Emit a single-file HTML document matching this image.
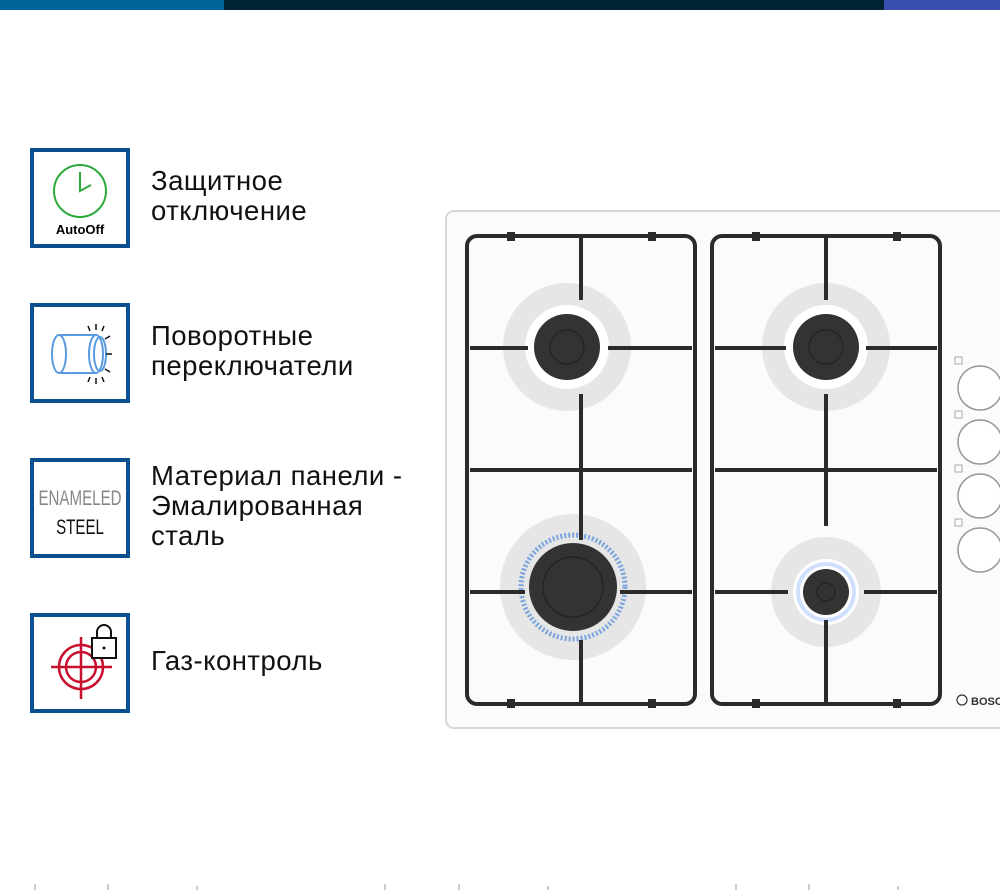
<!DOCTYPE html>
<html><head><meta charset="utf-8"><style>
body{margin:0;width:1000px;height:890px;background:#fff;position:relative;overflow:hidden;font-family:"Liberation Sans",sans-serif}
.bar{position:absolute;top:0;height:10px}
.box{position:absolute;left:30px;width:92px;height:92px;border:4px solid #0b4f8e;background:#fff}
.t{position:absolute;left:151px;font-size:27.5px;letter-spacing:0.5px;line-height:30px;color:#111}
</style></head><body>
<div class="bar" style="left:0;width:224px;background:#006499"></div>
<div class="bar" style="left:224px;width:660px;background:#002235"></div>
<div class="bar" style="left:884px;width:116px;background:#3a4fb0"></div>

<div class="box" style="top:148px">
<svg width="92" height="92"><circle cx="46" cy="39" r="26" fill="none" stroke="#2daa3c" stroke-width="2"/><path d="M46 20 V39 L57 33" fill="none" stroke="#2daa3c" stroke-width="2"/>
<text x="46" y="82" text-anchor="middle" font-size="13" font-weight="bold" font-family="Liberation Sans Narrow,Liberation Sans,sans-serif">AutoOff</text></svg></div>
<div class="t" style="top:166px">Защитное<br>отключение</div>

<div class="box" style="top:303px">
<svg width="92" height="92"><ellipse cx="25" cy="47" rx="7" ry="19" fill="none" stroke="#5a9be0" stroke-width="2"/><path d="M25 28 H62 M25 66 H62" stroke="#5a9be0" stroke-width="2"/><ellipse cx="62" cy="47" rx="7" ry="19" fill="none" stroke="#5a9be0" stroke-width="2"/><ellipse cx="66" cy="47" rx="6" ry="17" fill="none" stroke="#5a9be0" stroke-width="2"/>
<g stroke="#111" stroke-width="1.5"><path d="M62 17 l0 6 M54 19 l2 5 M70 19 l-2 5 M76 29 l-5 3 M78 47 h-6 M76 65 l-5 -3 M62 77 l0 -6 M54 75 l2 -5 M70 75 l-2 -5"/></g></svg></div>
<div class="t" style="top:321px">Поворотные<br>переключатели</div>

<div class="box" style="top:458px">
<svg width="92" height="92"><g transform="translate(46 0) scale(0.72 1)"><text x="0" y="43" text-anchor="middle" font-size="21" fill="#888">ENAMELED</text><text x="0" y="72" text-anchor="middle" font-size="21" fill="#111">STEEL</text></g></svg></div>
<div class="t" style="top:461px">Материал панели -<br>Эмалированная<br>сталь</div>

<div class="box" style="top:613px">
<svg width="92" height="92"><g fill="none" stroke="#c8102e" stroke-width="2.5"><circle cx="47" cy="50" r="22"/><circle cx="47" cy="50" r="15"/><path d="M17 50 H78 M47 20 V82"/></g>
<rect x="58" y="21" width="24" height="20" fill="#fff" stroke="#111" stroke-width="2"/><path d="M63 21 V15 a7 7 0 0 1 14 0 V21" fill="none" stroke="#111" stroke-width="2"/><circle cx="70" cy="31" r="1.5" fill="#111"/></svg></div>
<div class="t" style="top:646px">Газ-контроль</div>

<svg style="position:absolute;left:0;top:0" width="1000" height="890">
<rect x="446" y="211" width="580" height="517" rx="8" fill="#fbfbfb" stroke="#d8d8d8" stroke-width="2"/>
<g fill="#e6e6e6"><circle cx="567" cy="347" r="64"/><circle cx="826" cy="347" r="64"/><circle cx="573" cy="587" r="73"/><circle cx="826" cy="592" r="55"/></g>
<g fill="#fff"><circle cx="567" cy="347" r="42"/><circle cx="826" cy="347" r="42"/><circle cx="826" cy="592" r="33"/></g>
<circle cx="573" cy="587" r="52" fill="none" stroke="#7aa4e0" stroke-width="5" stroke-dasharray="2 2"/>
<circle cx="826" cy="592" r="28" fill="none" stroke="#cfe0ff" stroke-width="4"/>
<g fill="#333"><circle cx="567" cy="347" r="33"/><circle cx="826" cy="347" r="33"/><circle cx="573" cy="587" r="44"/><circle cx="826" cy="592" r="23"/></g>
<g fill="none" stroke="#222" stroke-width="1.2"><circle cx="567" cy="347" r="17"/><circle cx="826" cy="347" r="17"/><circle cx="573" cy="587" r="30"/><circle cx="826" cy="592" r="9"/></g>
<g fill="none" stroke="#2b2b2b" stroke-width="4">
<rect x="467" y="236" width="228" height="468" rx="10"/>
<rect x="712" y="236" width="228" height="468" rx="10"/>
<path d="M581 238 V300 M581 394 V540 M581 640 V702 M470 348 H528 M608 348 H692 M470 470 H692 M470 592 H525 M620 592 H692"/>
<path d="M826 238 V300 M826 394 V526 M826 620 V702 M715 348 H786 M866 348 H937 M715 470 H937 M715 592 H788 M864 592 H937"/>
</g>
<g fill="#2b2b2b"><rect x="507" y="232" width="8" height="9"/><rect x="648" y="232" width="8" height="9"/><rect x="507" y="699" width="8" height="9"/><rect x="648" y="699" width="8" height="9"/><rect x="752" y="232" width="8" height="9"/><rect x="893" y="232" width="8" height="9"/><rect x="752" y="699" width="8" height="9"/><rect x="893" y="699" width="8" height="9"/></g>
<g fill="#fff" stroke="#999" stroke-width="1.5"><circle cx="980" cy="388" r="22"/><circle cx="980" cy="442" r="22"/><circle cx="980" cy="496" r="22"/><circle cx="980" cy="550" r="22"/></g>
<g fill="none" stroke="#aaa"><rect x="955" y="357" width="7" height="7"/><rect x="955" y="411" width="7" height="7"/><rect x="955" y="465" width="7" height="7"/><rect x="955" y="519" width="7" height="7"/></g>
<circle cx="962" cy="700" r="5" fill="none" stroke="#333" stroke-width="1.2"/>
<text x="971" y="705" font-size="11" font-weight="bold" fill="#333">BOSCH</text>
<g fill="#ccc"><rect x="34" y="884" width="2" height="6"/><rect x="107" y="884" width="2" height="6"/><rect x="196" y="886" width="2" height="4"/><rect x="384" y="884" width="2" height="6"/><rect x="458" y="884" width="2" height="6"/><rect x="547" y="886" width="2" height="4"/><rect x="735" y="884" width="2" height="6"/><rect x="808" y="884" width="2" height="6"/><rect x="897" y="886" width="2" height="4"/></g>
</svg>
</body></html>
